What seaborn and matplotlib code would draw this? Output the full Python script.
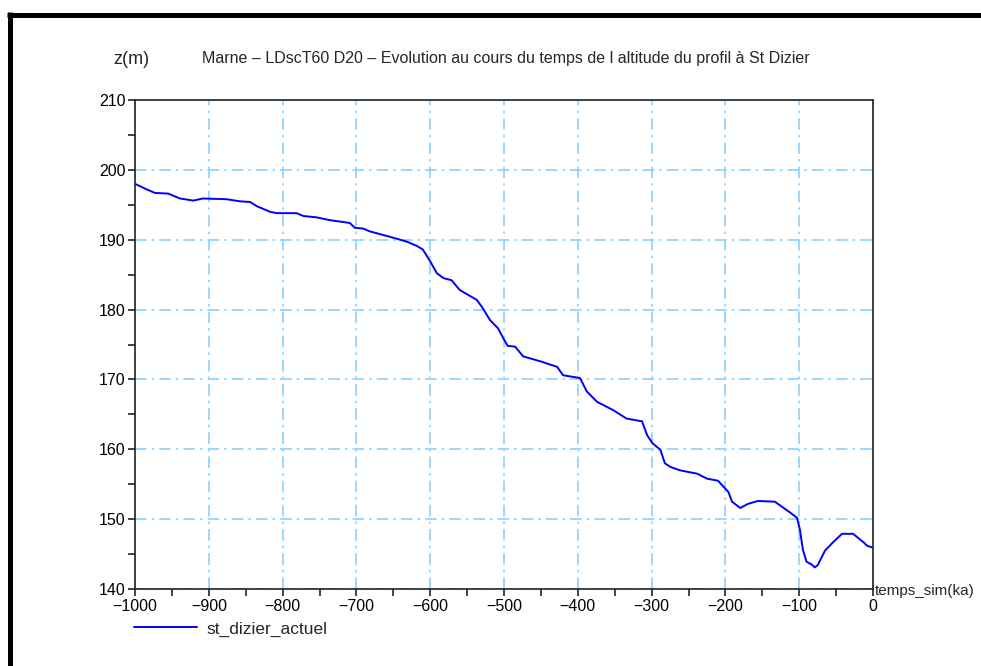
import matplotlib
matplotlib.use("Agg")
import matplotlib.pyplot as plt
import seaborn as sns
import pandas as pd
from matplotlib.lines import Line2D
from matplotlib.ticker import MultipleLocator

# ---- data ----
temps_ka = [-1000, -984, -973, -955, -939, -921, -908, -876, -858, -844, -835, -817, -808,
            -781, -772, -754, -736, -709, -702, -691, -682, -654, -631, -618, -610, -600,
            -591, -582, -571, -560, -537, -530, -519, -508, -501, -495, -485, -474, -451,
            -428, -420, -397, -388, -374, -352, -334, -313, -306, -299, -288, -282, -275,
            -262, -238, -225, -210, -203, -196, -191, -180, -169, -156, -133, -113, -103,
            -99, -95, -90, -83, -79, -75, -65, -54, -42, -27, -13, -8, 0]
altitude_m = [198.0, 197.2, 196.7, 196.6, 195.9, 195.6, 195.9, 195.8, 195.5, 195.4, 194.8,
              194.0, 193.8, 193.8, 193.4, 193.2, 192.8, 192.4, 191.7, 191.6, 191.2, 190.4,
              189.7, 189.1, 188.6, 186.9, 185.2, 184.5, 184.2, 182.8, 181.4, 180.4, 178.5,
              177.3, 175.9, 174.8, 174.7, 173.3, 172.6, 171.8, 170.6, 170.2, 168.3, 166.8,
              165.6, 164.4, 164.0, 162.0, 160.9, 159.9, 158.0, 157.5, 157.0, 156.5, 155.8,
              155.5, 154.7, 153.9, 152.5, 151.6, 152.2, 152.6, 152.5, 151.0, 150.2, 148.5,
              145.6, 143.9, 143.5, 143.1, 143.4, 145.5, 146.7, 147.9, 147.9, 146.7, 146.2,
              145.9]
series_name = "st_dizier_actuel"
title_text = "Marne – LDscT60 D20 – Evolution au cours du temps de l altitude du profil à St Dizier"
ylabel_text = "z(m)"
xlabel_text = "temps_sim(ka)"

df = pd.DataFrame({"temps": temps_ka, "z": altitude_m, "serie": series_name})

sns.set_theme(style="white")
plt.rcParams["font.family"] = ["Liberation Sans", "DejaVu Sans"]

W, H = 981, 666
fig = plt.figure(figsize=(W / 100, H / 100), dpi=100)
ax = fig.add_axes([135 / W, 1 - 589 / H, (873 - 135) / W, (589 - 100) / H])

sns.lineplot(data=df, x="temps", y="z", hue="serie", palette=["#0000ff"],
             sort=False, estimator=None, linewidth=1.4, ax=ax, legend=False)

ax.set_xlim(-1000, 0)
ax.set_ylim(140, 210)
ax.xaxis.set_major_locator(MultipleLocator(100))
ax.xaxis.set_minor_locator(MultipleLocator(50))
ax.yaxis.set_major_locator(MultipleLocator(10))
ax.yaxis.set_minor_locator(MultipleLocator(5))
ax.tick_params(axis="both", which="both", direction="out", length=5, width=1.2,
               color="#222222", bottom=True, left=True, top=False, right=False,
               labelsize=11.5, labelcolor="black", pad=2)
ax.grid(True, which="major", color="#8fd0ff", linestyle=(0, (7, 3, 1.5, 3)), linewidth=1.2)
for s in ax.spines.values():
    s.set_color("#222222")
    s.set_linewidth(1.2)
ax.set_xlabel("")
ax.set_ylabel("")

# texts
fig.text(131 / W, 1 - 59 / H, ylabel_text, ha="center", va="center", fontsize=13)
fig.text(506 / W, 1 - 59 / H, title_text, ha="center", va="center", fontsize=11.5)
fig.text(875 / W, 1 - 591 / H, xlabel_text, ha="left", va="center", fontsize=11)

# legend
handle = Line2D([], [], color="#0000ff", linewidth=1.4)
fig.legend([handle], [series_name], loc="center left",
           bbox_to_anchor=(134 / W, 1 - 629 / H), frameon=False, fontsize=12.5,
           handlelength=3.6, handletextpad=0.6, borderpad=0, borderaxespad=0)

# outer frame (top and left)
fig.add_artist(Line2D([7 / W, 1.0], [1 - 14.5 / H, 1 - 14.5 / H], color="black",
                      linewidth=3.6, transform=fig.transFigure, solid_capstyle="butt"))
fig.add_artist(Line2D([9.5 / W, 9.5 / W], [1 - 12 / H, 0.0], color="black",
                      linewidth=3.6, transform=fig.transFigure, solid_capstyle="butt"))

fig.savefig("out.png", dpi=100, facecolor="white")
